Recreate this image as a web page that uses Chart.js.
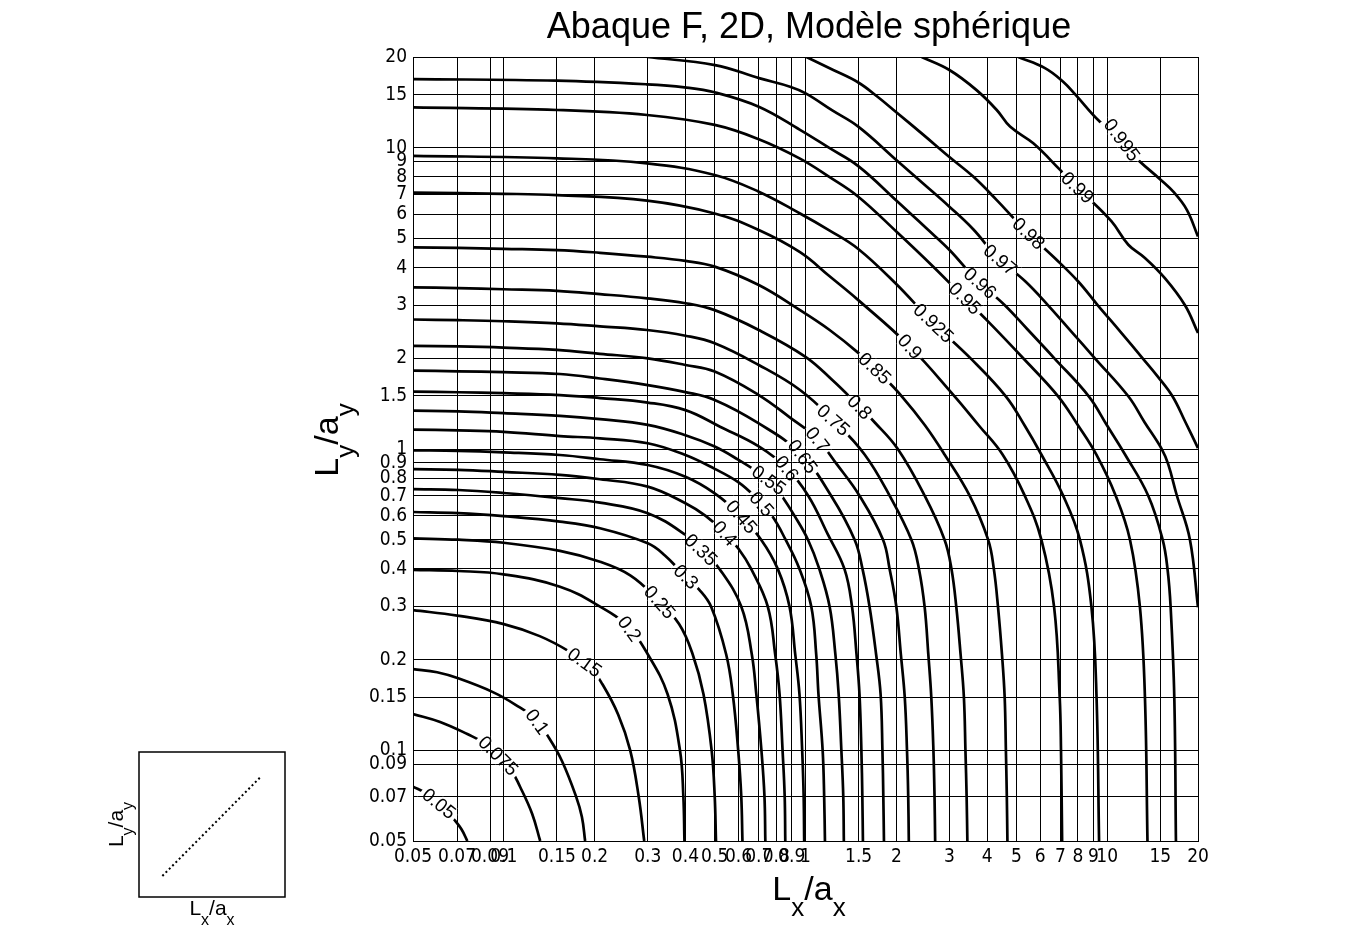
<!DOCTYPE html>
<html>
<head>
<meta charset="utf-8">
<script src="https://cdn.jsdelivr.net/npm/chart.js@4.4.1/dist/chart.umd.min.js"></script>
<style>
    body { margin: 0; background: #fff; }
    #wrap { position: relative; width: 1365px; height: 937px; }
    #main { position: absolute; left: 0; top: 0; }
    #inset { position: absolute; left: 100px; top: 740px; }
</style>
</head>
<body>
<div id="wrap">
    <canvas id="main" width="1365" height="937"></canvas>
    <canvas id="inset" width="200" height="195"></canvas>
</div>
<script>
// contour levels and axis ticks
const levels = [0.05, 0.075, 0.1, 0.15, 0.2, 0.25, 0.3, 0.35, 0.4, 0.45, 0.5, 0.55, 0.6,
                0.65, 0.7, 0.75, 0.8, 0.85, 0.9, 0.925, 0.95, 0.96, 0.97, 0.98, 0.99, 0.995];
const axisTicks = [0.05, 0.07, 0.09, 0.1, 0.15, 0.2, 0.3, 0.4, 0.5, 0.6, 0.7, 0.8, 0.9,
                   1, 1.5, 2, 3, 4, 5, 6, 7, 8, 9, 10, 15, 20];

// contour lines, [Lx/ax, Ly/ay]
const iso005 = [[0.05,0.0757],[0.0548,0.0723],[0.0595,0.0679],[0.064,0.064],[0.0679,0.0595],[0.0723,0.0548],[0.0757,0.05]];
const iso0075 = [[0.05,0.132],[0.0615,0.1242],[0.0757,0.1132],[0.0879,0.1045],[0.0959,0.0959],[0.1045,0.0879],[0.1132,0.0757],[0.1242,0.0615],[0.132,0.05]];
const iso010 = [[0.05,0.186],[0.0601,0.1815],[0.0706,0.1733],[0.092,0.156],[0.1094,0.1416],[0.1271,0.1271],[0.1416,0.1094],[0.156,0.092],[0.1733,0.0706],[0.1815,0.0601],[0.186,0.05]];
const iso015 = [[0.05,0.292],[0.0701,0.28],[0.1,0.2624],[0.1315,0.2393],[0.1656,0.2123],[0.1914,0.1914],[0.2123,0.1656],[0.2393,0.1315],[0.2624,0.1],[0.28,0.0701],[0.292,0.05]];
const iso020 = [[0.05,0.397],[0.0706,0.3936],[0.0998,0.3837],[0.1535,0.3491],[0.2084,0.30],[0.2576,0.2576],[0.30,0.2084],[0.3491,0.1535],[0.3837,0.0998],[0.3936,0.0706],[0.397,0.05]];
const iso025 = [[0.05,0.505],[0.0706,0.5],[0.0998,0.4886],[0.1535,0.4591],[0.2084,0.4226],[0.2624,0.381],[0.32,0.32],[0.381,0.2624],[0.4226,0.2084],[0.4591,0.1535],[0.4886,0.0998],[0.5,0.0706],[0.505,0.05]];
const iso030 = [[0.05,0.618],[0.0706,0.6123],[0.0998,0.5984],[0.1535,0.574],[0.2084,0.5457],[0.30,0.4863],[0.342,0.4434],[0.389,0.389],[0.4434,0.342],[0.4863,0.30],[0.5457,0.2084],[0.574,0.1535],[0.5984,0.0998],[0.6123,0.0706],[0.618,0.05]];
const iso035 = [[0.05,0.736],[0.0706,0.731],[0.0998,0.7144],[0.1535,0.687],[0.2084,0.6637],[0.30,0.6124],[0.40,0.5187],[0.4571,0.4571],[0.5187,0.40],[0.6124,0.30],[0.6637,0.2084],[0.687,0.1535],[0.7144,0.0998],[0.731,0.0706],[0.736,0.05]];
const iso040 = [[0.05,0.857],[0.0706,0.853],[0.0998,0.8395],[0.1535,0.8204],[0.2084,0.7934],[0.30,0.7499],[0.40,0.6605],[0.4666,0.5997],[0.5333,0.5333],[0.5997,0.4666],[0.6605,0.40],[0.7499,0.30],[0.7934,0.2084],[0.8204,0.1535],[0.8395,0.0998],[0.853,0.0706],[0.857,0.05]];
const iso045 = [[0.05,0.99],[0.0706,0.986],[0.0998,0.975],[0.1535,0.955],[0.2084,0.9245],[0.30,0.885],[0.40,0.809],[0.50,0.7128],[0.6052,0.6052],[0.7128,0.50],[0.809,0.40],[0.885,0.30],[0.9245,0.2084],[0.955,0.1535],[0.975,0.0998],[0.986,0.0706],[0.99,0.05]];
const iso050 = [[0.05,1.16],[0.0706,1.153],[0.0998,1.14],[0.1535,1.104],[0.2084,1.085],[0.30,1.045],[0.40,0.955],[0.50,0.859],[0.60,0.7745],[0.6871,0.6871],[0.7745,0.60],[0.859,0.50],[0.955,0.40],[1.045,0.30],[1.085,0.2084],[1.104,0.1535],[1.14,0.0998],[1.153,0.0706],[1.16,0.05]];
const iso055 = [[0.05,1.34],[0.0706,1.334],[0.0998,1.315],[0.1535,1.288],[0.2084,1.256],[0.30,1.202],[0.40,1.111],[0.50,1.019],[0.60,0.92],[0.70,0.834],[0.7745,0.7745],[0.834,0.70],[0.92,0.60],[1.019,0.50],[1.111,0.40],[1.202,0.30],[1.256,0.2084],[1.288,0.1535],[1.315,0.0998],[1.334,0.0706],[1.34,0.05]];
const iso060 = [[0.05,1.55],[0.0706,1.543],[0.0998,1.532],[0.1535,1.51],[0.2084,1.476],[0.30,1.426],[0.40,1.346],[0.5207,1.186],[0.70,1.021],[0.865,0.865],[1.021,0.70],[1.186,0.5207],[1.346,0.40],[1.426,0.30],[1.476,0.2084],[1.51,0.1535],[1.532,0.0998],[1.543,0.0706],[1.55,0.05]];
const iso065 = [[0.05,1.82],[0.0706,1.811],[0.0998,1.799],[0.1535,1.774],[0.2084,1.714],[0.30,1.63],[0.40,1.545],[0.50,1.455],[0.70,1.216],[0.964,0.964],[1.216,0.70],[1.455,0.50],[1.545,0.40],[1.63,0.30],[1.714,0.2084],[1.774,0.1535],[1.799,0.0998],[1.811,0.0706],[1.82,0.05]];
const iso070 = [[0.05,2.2],[0.0706,2.19],[0.0998,2.17],[0.15,2.133],[0.2084,2.07],[0.30,2.0],[0.40,1.90],[0.50,1.807],[0.70,1.51],[0.889,1.271],[1.087,1.087],[1.271,0.889],[1.51,0.70],[1.807,0.50],[1.90,0.40],[2.0,0.30],[2.07,0.2084],[2.133,0.15],[2.17,0.0998],[2.19,0.0706],[2.2,0.05]];
const iso075 = [[0.05,2.69],[0.0706,2.677],[0.0998,2.655],[0.15,2.612],[0.2084,2.553],[0.2985,2.483],[0.40,2.377],[0.50,2.244],[0.70,1.90],[0.959,1.57],[1.242,1.242],[1.57,0.959],[1.90,0.70],[2.244,0.50],[2.377,0.40],[2.483,0.2985],[2.553,0.2084],[2.612,0.15],[2.655,0.0998],[2.677,0.0706],[2.69,0.05]];
const iso080 = [[0.05,3.44],[0.0706,3.42],[0.0998,3.39],[0.15,3.35],[0.2084,3.266],[0.2985,3.162],[0.40,3.047],[0.50,2.89],[0.70,2.483],[1.0,2.023],[1.227,1.694],[1.445,1.445],[1.694,1.227],[2.023,1.0],[2.483,0.70],[2.89,0.50],[3.047,0.40],[3.162,0.2985],[3.266,0.2084],[3.35,0.15],[3.39,0.0998],[3.42,0.0706],[3.44,0.05]];
const iso085 = [[0.05,4.67],[0.0706,4.648],[0.0998,4.616],[0.15,4.573],[0.2084,4.479],[0.2985,4.347],[0.40,4.21],[0.50,4.03],[0.70,3.50],[0.959,2.89],[1.199,2.488],[1.496,2.085],[1.774,1.774],[2.085,1.496],[2.488,1.199],[2.89,0.959],[3.50,0.70],[4.03,0.50],[4.21,0.40],[4.347,0.2985],[4.479,0.2084],[4.573,0.15],[4.616,0.0998],[4.648,0.0706],[4.67,0.05]];
const iso090 = [[0.05,7.09],[0.0998,7.03],[0.15,6.96],[0.2985,6.67],[0.5,6.05],[0.70,5.33],[0.959,4.5],[1.199,3.75],[1.496,3.12],[2.203,2.203],[3.12,1.496],[3.75,1.199],[4.5,0.959],[5.33,0.70],[6.05,0.5],[6.67,0.2985],[6.96,0.15],[7.03,0.0998],[7.09,0.05]];
const iso0925 = [[0.05,9.4],[0.15,9.22],[0.2985,8.87],[0.5,8.12],[0.70,7.145],[0.959,6.05],[1.199,5.32],[1.496,4.613],[1.991,3.54],[2.636,2.636],[3.54,1.991],[4.613,1.496],[5.32,1.199],[6.05,0.959],[7.145,0.70],[8.12,0.5],[8.87,0.2985],[9.22,0.15],[9.4,0.05]];
const iso095 = [[0.05,13.6],[0.15,13.34],[0.2985,12.84],[0.5,11.9],[0.70,10.67],[0.959,9.20],[1.199,8.0],[1.496,6.877],[2.004,5.26],[2.652,4.027],[3.266,3.266],[4.027,2.652],[5.26,2.004],[6.877,1.496],[8.0,1.199],[9.20,0.959],[10.67,0.70],[11.9,0.5],[12.84,0.2985],[13.34,0.15],[13.6,0.05]];
const iso096 = [[0.05,16.9],[0.15,16.69],[0.2985,16.23],[0.397,15.86],[0.5,15.27],[0.70,13.68],[0.959,11.46],[1.199,9.98],[1.496,8.69],[2.004,6.67],[2.506,5.42],[3.013,4.56],[3.664,3.664],[4.56,3.013],[5.42,2.506],[6.67,2.004],[8.69,1.496],[9.98,1.199],[11.46,0.959],[13.68,0.70],[15.27,0.5],[15.86,0.397],[16.23,0.2985],[16.69,0.15],[16.9,0.05]];
const iso097 = [[0.2983,20],[0.5012,18.8],[0.7063,16.98],[0.8886,15.94],[1.0016,15.15],[1.227,13.3],[1.496,11.75],[2.004,9.09],[2.449,7.62],[2.999,6.37],[3.597,5.36],[4.325,4.325],[5.36,3.597],[6.37,2.999],[7.62,2.449],[9.09,2.004],[11.75,1.496],[13.3,1.227],[15.15,1.0016],[15.94,0.8886],[16.98,0.7063],[18.8,0.5012],[20,0.2983]];
const iso098 = [[1.007,20],[1.236,18.11],[1.496,16.46],[1.733,14.76],[2.004,13.09],[2.449,11.07],[2.999,9.31],[3.597,8.017],[4.305,6.70],[4.886,5.85],[5.334,5.334],[5.85,4.886],[6.70,4.305],[8.017,3.597],[9.31,2.999],[11.07,2.449],[13.09,2.004],[14.76,1.733],[16.46,1.496],[18.11,1.236],[20,1.007]];
const iso099 = [[2.427,20],[2.999,18.11],[3.69,15.53],[4.305,13.34],[4.764,11.75],[5.69,10.34],[6.98,8.44],[7.655,7.655],[8.44,6.98],[10.34,5.69],[11.75,4.764],[13.34,4.305],[15.53,3.69],[18.11,2.999],[20,2.427]];
const iso0995 = [[5.07,20],[6.22,18.37],[7.145,16.56],[7.834,15.03],[9.46,12.19],[10.94,10.94],[12.19,9.46],[15.03,7.834],[16.56,7.145],[18.37,6.22],[20,5.07]];

const curves = [iso005, iso0075, iso010, iso015, iso020, iso025, iso030, iso035, iso040, iso045,
                iso050, iso055, iso060, iso065, iso070, iso075, iso080, iso085, iso090, iso0925,
                iso095, iso096, iso097, iso098, iso099, iso0995];

// where each level's label sits
const labelSpots = [[0.0605,0.0659],[0.0949,0.095],[0.1288,0.1242],[0.1858,0.1964],[0.2621,0.2541],
                    [0.3294,0.311],[0.4017,0.3767],[0.4528,0.4656],[0.5408,0.5248],[0.6145,0.5962],
                    [0.7157,0.6566],[0.7528,0.7831],[0.8664,0.863],[0.977,0.9433],[1.1025,1.0798],
                    [1.236,1.247],[1.516,1.381],[1.656,1.806],[2.218,2.185],[2.618,2.58],
                    [3.377,3.161],[3.785,3.548],[4.41,4.236],[5.475,5.171],[7.924,7.328],[11.17,10.61]];

// inset sketch: dotted diagonal
const insetX = [0.16, 0.84];
const insetY = [0.145, 0.835];

const SANS = '"Liberation Sans", Arial, sans-serif';
const NARROW = '"Liberation Sans Narrow", "Arial Narrow", "DejaVu Sans Condensed", sans-serif';

function drawSubText(ctx, parts, cx, base, big, small, drop) {
    let total = 0;
    const widths = parts.map(([t, sub]) => {
        ctx.font = (sub ? small : big) + 'px ' + SANS;
        const w = ctx.measureText(t).width;
        total += w;
        return w;
    });
    let x = cx - total / 2;
    ctx.textAlign = 'left';
    ctx.textBaseline = 'alphabetic';
    parts.forEach(([t, sub], i) => {
        ctx.font = (sub ? small : big) + 'px ' + SANS;
        ctx.fillText(t, x, sub ? base + drop : base);
        x += widths[i];
    });
}

function nearestOnCurve(points, tx, ty) {
    let best = null;
    for (let i = 0; i < points.length - 1; i++) {
        const a = points[i], b = points[i + 1];
        const dx = b.x - a.x, dy = b.y - a.y;
        const len2 = dx * dx + dy * dy || 1;
        let t = ((tx - a.x) * dx + (ty - a.y) * dy) / len2;
        t = Math.max(0, Math.min(1, t));
        const px = a.x + t * dx, py = a.y + t * dy;
        const d = (px - tx) ** 2 + (py - ty) ** 2;
        if (!best || d < best.d) best = { x: px, y: py, ang: Math.atan2(dy, dx), d: d };
    }
    return best;
}

// same rounding chart.js uses for 1px grid lines
const crisp = p => Math.round(p - 0.5) + 0.5;

const contourLabels = {
    id: 'contourLabels',
    afterDatasetsDraw(chart) {
        const ctx = chart.ctx;
        const xs = chart.scales.x, ys = chart.scales.y;
        const area = chart.chartArea;
        ctx.save();
        ctx.font = '19px ' + SANS;
        const spots = labelSpots.map((p, i) => {
            const meta = chart.getDatasetMeta(i);
            const s = nearestOnCurve(meta.data, xs.getPixelForValue(p[0]), ys.getPixelForValue(p[1]));
            const text = String(levels[i]);
            return { s, text, w: ctx.measureText(text).width };
        });
        // white gaps in the lines, then grid redrawn only inside those gaps
        spots.forEach(({ s, w }) => {
            ctx.save();
            ctx.translate(s.x, s.y);
            ctx.rotate(s.ang);
            ctx.beginPath();
            ctx.rect(-w / 2 - 3, -8, w + 6, 16);
            ctx.fillStyle = '#fff';
            ctx.fill();
            ctx.clip();
            ctx.rotate(-s.ang);
            ctx.translate(-s.x, -s.y);
            ctx.strokeStyle = '#000';
            ctx.lineWidth = 1;
            ctx.beginPath();
            axisTicks.forEach(v => {
                const px = crisp(xs.getPixelForValue(v));
                ctx.moveTo(px, area.top);
                ctx.lineTo(px, area.bottom);
                const py = crisp(ys.getPixelForValue(v));
                ctx.moveTo(area.left, py);
                ctx.lineTo(area.right, py);
            });
            ctx.stroke();
            ctx.restore();
        });
        // label text
        ctx.fillStyle = '#000';
        ctx.textAlign = 'center';
        ctx.textBaseline = 'middle';
        spots.forEach(({ s, text }) => {
            ctx.save();
            ctx.translate(s.x, s.y);
            ctx.rotate(s.ang);
            ctx.fillText(text, 0, 1);
            ctx.restore();
        });
        ctx.restore();
    },
    afterDraw(chart) {
        const ctx = chart.ctx;
        ctx.save();
        ctx.fillStyle = '#000';
        ctx.font = '36px ' + SANS;
        ctx.textAlign = 'center';
        ctx.textBaseline = 'alphabetic';
        ctx.fillText('Abaque F, 2D, Modèle sphérique', 809, 38);
        drawSubText(ctx, [['L', false], ['x', true], ['/a', false], ['x', true]], 809, 900, 34, 26, 16);
        ctx.translate(338, 440);
        ctx.rotate(-Math.PI / 2);
        drawSubText(ctx, [['L', false], ['y', true], ['/a', false], ['y', true]], 0, 0, 34, 26, 16);
        ctx.restore();
    }
};

const tickFont = { family: NARROW, size: 19 };

new Chart(document.getElementById('main'), {
    type: 'line',
    data: {
        datasets: curves.map((pts, i) => ({
            label: String(levels[i]),
            data: pts.map(p => ({ x: p[0], y: p[1] })),
            borderColor: '#000',
            borderWidth: 2.7,
            pointRadius: 0,
            tension: 0.4,
            fill: false
        }))
    },
    options: {
        responsive: false,
        devicePixelRatio: 1,
        animation: false,
        layout: { padding: { left: 363, top: 57, right: 167, bottom: 56 } },
        scales: {
            x: {
                type: 'logarithmic',
                min: 0.05,
                max: 20,
                afterBuildTicks: s => { s.ticks = axisTicks.map(v => ({ value: v })); },
                afterFit: s => { s.height = 40; s.paddingLeft = 0; s.paddingRight = 0; },
                ticks: {
                    autoSkip: false, maxRotation: 0, minRotation: 0,
                    color: '#000', font: tickFont, padding: 5,
                    callback: v => String(v)
                },
                grid: { color: '#000', lineWidth: 1, drawTicks: false },
                border: { color: '#000', width: 1 }
            },
            y: {
                type: 'logarithmic',
                min: 0.05,
                max: 20,
                afterBuildTicks: s => { s.ticks = axisTicks.map(v => ({ value: v })); },
                afterFit: s => { s.width = 50; s.paddingTop = 0; s.paddingBottom = 0; },
                ticks: {
                    autoSkip: false, color: '#000', font: tickFont, padding: 6,
                    callback: v => String(v)
                },
                grid: { color: '#000', lineWidth: 1, drawTicks: false },
                border: { color: '#000', width: 1 }
            }
        },
        plugins: {
            legend: { display: false },
            tooltip: { enabled: false },
            title: { display: false }
        }
    },
    plugins: [contourLabels]
});

// small sketch at bottom left
const insetFrame = {
    id: 'insetFrame',
    afterDraw(chart) {
        const ctx = chart.ctx;
        const a = chart.chartArea;
        ctx.save();
        ctx.strokeStyle = '#000';
        ctx.lineWidth = 1.5;
        ctx.strokeRect(a.left, a.top, a.right - a.left, a.bottom - a.top);
        ctx.fillStyle = '#000';
        drawSubText(ctx, [['L', false], ['x', true], ['/a', false], ['x', true]], (a.left + a.right) / 2, 175, 21, 16, 10);
        ctx.translate(23, (a.top + a.bottom) / 2);
        ctx.rotate(-Math.PI / 2);
        drawSubText(ctx, [['L', false], ['y', true], ['/a', false], ['y', true]], 0, 0, 21, 16, 10);
        ctx.restore();
    }
};

new Chart(document.getElementById('inset'), {
    type: 'line',
    data: {
        datasets: [{
            data: insetX.map((x, i) => ({ x: x, y: insetY[i] })),
            borderColor: '#000',
            borderWidth: 2,
            borderDash: [2, 2.7],
            pointRadius: 0
        }]
    },
    options: {
        responsive: false,
        devicePixelRatio: 1,
        animation: false,
        layout: { padding: { left: 39, top: 12, right: 15, bottom: 38 } },
        scales: {
            x: { type: 'linear', min: 0, max: 1, display: false },
            y: { type: 'linear', min: 0, max: 1, display: false }
        },
        plugins: { legend: { display: false }, tooltip: { enabled: false } }
    },
    plugins: [insetFrame]
});
</script>
</body>
</html>
